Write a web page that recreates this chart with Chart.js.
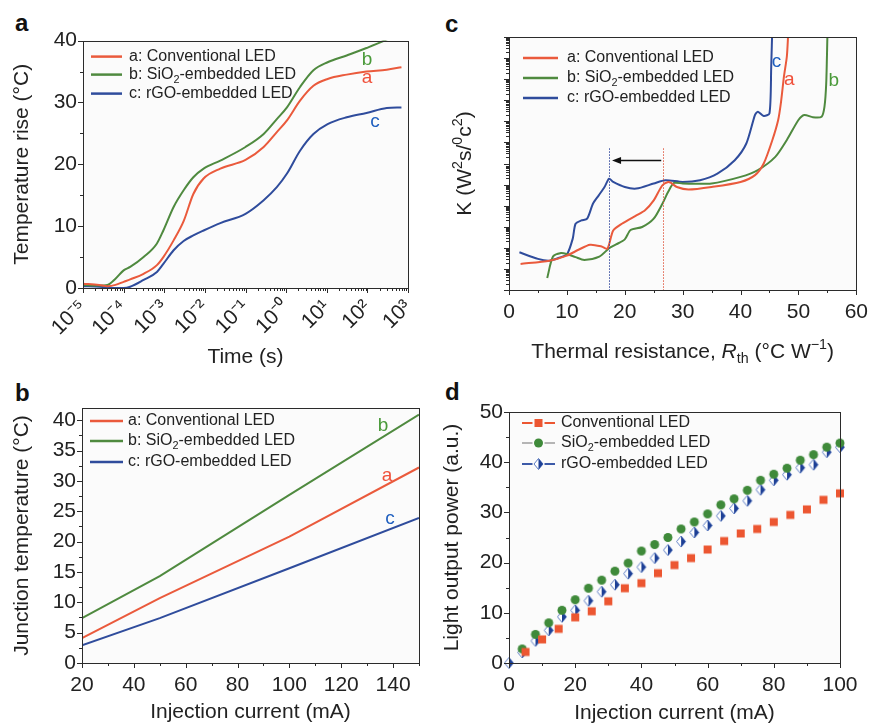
<!DOCTYPE html>
<html>
<head>
<meta charset="utf-8">
<script src="https://cdn.jsdelivr.net/npm/chart.js@4.4.1/dist/chart.umd.min.js"></script>
<style>
  html, body { margin: 0; padding: 0; background: #fff; }
  body { position: relative; width: 874px; height: 726px; overflow: hidden; font-family: 'Liberation Sans', Arial, sans-serif; }
  canvas { position: absolute; }
  .tag { position: absolute; font-weight: bold; font-size: 24px; line-height: 1; color: #111; }
</style>
</head>
<body>
<span class="tag" style="left:15px;top:11px">a</span>
<span class="tag" style="left:445px;top:12px">c</span>
<span class="tag" style="left:15px;top:381px">b</span>
<span class="tag" style="left:445px;top:380px">d</span>
<canvas id="chartA" width="430" height="350" style="left:0;top:25px"></canvas>
<canvas id="chartC" width="434" height="345" style="left:440px;top:30px"></canvas>
<canvas id="chartB" width="430" height="341" style="left:0;top:385px"></canvas>
<canvas id="chartD" width="434" height="341" style="left:440px;top:385px"></canvas>
<script>
const FONT = "'Liberation Sans', Arial, sans-serif";
const RED = '#ea5a3c', GREEN = '#4f8a3f', BLUE = '#2f4c9c';

// (a) transient temperature rise vs time
const timeS = [1e-5, 2.5e-5, 4e-5, 6.3e-5, 1e-4, 1.45e-4, 3.1e-4, 6.6e-4, 9.5e-4, 1.7e-3, 3e-3, 5.2e-3, 9.3e-3,
  2.4e-2, 0.1, 0.28, 0.59, 1.05, 2.2, 4.7, 10.5, 31, 95, 300, 690];
const riseConv = [0.7, 0.5, 0.3, 0.5, 1.0, 1.4, 2.3, 3.7, 5.0, 7.7, 10.8, 15.2, 17.7,
  19.3, 20.7, 22.8, 25.2, 27.1, 30.3, 32.7, 33.8, 34.5, 35.0, 35.3, 35.7];
const riseSiO2 = [0.5, 0.4, 0.5, 1.5, 2.85, 3.4, 5.0, 7.2, 9.3, 13.1, 15.8, 17.9, 19.3,
  20.6, 22.8, 24.9, 27.3, 29.2, 32.5, 35.2, 36.5, 37.6, 38.8, 40.2, 41.5];
const riseRgo = [0.3, 0.2, 0.1, 0.0, 0.0, 0.2, 1.3, 2.6, 3.9, 6.1, 7.6, 8.5, 9.3,
  10.5, 12.0, 14.2, 16.3, 18.5, 22.2, 24.9, 26.5, 27.6, 28.3, 29.1, 29.2];
const timeTickLabels = ['10⁻⁵', '10⁻⁴', '10⁻³', '10⁻²', '10⁻¹', '10⁻⁰', '10¹', '10²', '10³'];

// (b) junction temperature vs injection current
const currentB = [20, 50, 100, 150];
const tjConv = [4.1, 10.7, 20.8, 32.2];
const tjSiO2 = [7.4, 14.3, 27.7, 40.9];
const tjRgo = [2.9, 7.4, 15.6, 23.9];

// (c) structure function K vs thermal resistance (K in relative units, 0-100 over the axis)
const rthConv = [2, 7, 10, 12, 14, 16, 17, 18, 19.5, 22, 23.5, 25, 26.5, 27.5, 28, 29, 31, 35, 40, 42.5, 44, 45.5, 46.5, 47, 47.5, 48, 48.2, 48.4];
const kConv = [10.3, 11.6, 13.6, 15.9, 17.9, 17.2, 16.3, 23.5, 26.2, 29.5, 31.5, 35.4, 41.4, 42.7, 42.3, 40.7, 39.7, 40.7, 42.7, 45.4, 50.0, 59.3, 67.2, 74.5, 84.4, 92.3, 100, 110];
const rthSiO2 = [6.6, 7.6, 9, 10, 11.5, 13, 15.6, 17.3, 18.5, 20, 21, 23, 25, 26.5, 27.5, 28.5, 30, 35, 40, 43, 46, 48, 50, 51, 52.5, 54, 54.5, 54.8, 55, 55.1];
const kSiO2 = [4.7, 13.2, 14.6, 14.2, 13.0, 11.9, 13.2, 16.5, 18.0, 20.0, 23.7, 24.9, 28.2, 34.1, 38.8, 42.3, 42.1, 42.1, 44.7, 47.4, 52.6, 59.3, 67.2, 69.2, 68.3, 68.5, 72.5, 81.7, 100, 110];
const rthRgo = [1.8, 5, 7, 9, 10, 11, 11.5, 12.5, 13.5, 14.5, 15.5, 16.5, 17.3, 18, 20, 22, 25, 27, 30, 33, 36, 39, 41, 42.5, 43, 44, 45, 45.3, 45.5];
const kRgo = [14.9, 12.3, 11.6, 13.0, 14.0, 20.2, 26.2, 27.5, 28.2, 34.1, 37.4, 40.7, 44.0, 42.7, 40.7, 40.1, 42.1, 43.4, 42.7, 43.4, 46.0, 51.3, 57.9, 69.2, 70.5, 68.8, 69.8, 88.4, 105];
const rthMarkConv = 26.6, rthMarkRgo = 17.3;

// (d) light output power vs injection current
const currentConv = [5, 10, 15, 20, 25, 30, 35, 40, 45, 50, 55, 60, 65, 70, 75, 80, 85, 90, 95, 100];
const powerConv = [2.2, 4.7, 6.8, 9.1, 10.3, 12.3, 14.9, 15.9, 17.9, 19.5, 20.9, 22.6, 24.3, 25.8, 26.7, 28.1, 29.5, 30.6, 32.5, 33.8];
const currentSiO2 = [4, 8, 12, 16, 20, 24, 28, 32, 36, 40, 44, 48, 52, 56, 60, 64, 68, 72, 76, 80, 84, 88, 92, 96, 100];
const powerSiO2 = [2.8, 5.7, 8.0, 10.5, 12.6, 14.9, 16.5, 18.3, 19.9, 22.3, 23.6, 25.0, 26.7, 28.1, 29.7, 31.5, 32.7, 34.4, 36.4, 37.6, 38.8, 40.4, 41.5, 43.0, 43.8];
const currentRgo = [0, 4, 8, 12, 16, 20, 24, 28, 32, 36, 40, 44, 48, 52, 56, 60, 64, 68, 72, 76, 80, 84, 88, 92, 96, 100];
const powerRgo = [0, 2.1, 4.4, 6.5, 9.2, 10.5, 12.4, 14.2, 15.6, 17.8, 19.1, 20.9, 22.5, 24.2, 26.0, 27.4, 29.3, 30.8, 32.3, 34.5, 36.4, 37.5, 38.9, 39.5, 42.0, 43.0];

const namesABC = [
  [['a: Conventional LED', '']],
  [['b: SiO', ''], ['2', 'sub'], ['-embedded LED', '']],
  [['c: rGO-embedded LED', '']]
];
const namesD = [
  [['Conventional LED', '']],
  [['SiO', ''], ['2', 'sub'], ['-embedded LED', '']],
  [['rGO-embedded LED', '']]
];

Chart.defaults.font.family = FONT;
Chart.defaults.color = '#222';

const pts = (xs, ys) => xs.map((x, i) => ({ x, y: ys[i] }));

function richText(ctx, parts, x, y, size, align) {
  const segs = parts.map(([t, m]) => {
    const s = (m === 'sub' || m === 'sup') ? size * 0.68 : size;
    const f = (m === 'it' ? 'italic ' : '') + s + 'px ' + FONT;
    ctx.font = f;
    return { t, m, f, w: ctx.measureText(t).width };
  });
  const total = segs.reduce((a, s) => a + s.w, 0);
  let cx = align === 'center' ? x - total / 2 : x;
  ctx.textAlign = 'left';
  ctx.textBaseline = 'middle';
  segs.forEach(s => {
    ctx.font = s.f;
    const dy = s.m === 'sub' ? size * 0.32 : s.m === 'sup' ? -size * 0.32 : 0;
    ctx.fillText(s.t, cx, y + dy);
    cx += s.w;
  });
}

function drawMarker(ctx, kind, x, y) {
  ctx.save();
  if (kind === 'square') {
    ctx.fillStyle = '#ec5631';
    ctx.fillRect(x - 4, y - 4, 8, 8);
  } else if (kind === 'circle') {
    ctx.fillStyle = '#3f8a3a';
    ctx.beginPath(); ctx.arc(x, y, 4.5, 0, Math.PI * 2); ctx.fill();
  } else {
    ctx.beginPath();
    ctx.moveTo(x, y - 5.5); ctx.lineTo(x + 4.5, y); ctx.lineTo(x, y + 5.5); ctx.lineTo(x - 4.5, y); ctx.closePath();
    ctx.fillStyle = '#fff'; ctx.fill();
    ctx.strokeStyle = '#5b7cc4'; ctx.lineWidth = 1; ctx.stroke();
    ctx.beginPath();
    ctx.moveTo(x, y - 5.5); ctx.lineTo(x + 4.5, y); ctx.lineTo(x, y + 5.5); ctx.closePath();
    ctx.fillStyle = '#1d3f95'; ctx.fill();
  }
  ctx.restore();
}

function markerImage(kind) {
  const c = document.createElement('canvas');
  c.width = 12; c.height = 13;
  drawMarker(c.getContext('2d'), kind, 6, 6.5);
  return c;
}

function linTicks(min, max, step, every) {
  return scale => {
    const out = [];
    for (let i = 0; min + i * step <= max + 1e-9; i++) {
      const v = +(min + i * step).toFixed(4);
      out.push({ value: v, major: Math.abs(v / every - Math.round(v / every)) < 1e-6 });
    }
    scale.ticks = out;
  };
}
const majorLabel = (v, i, t) => (t[i] && t[i].major ? String(v) : '');

function logTimeTicks(scale) {
  const out = [];
  for (let e = -5; e <= 3; e++) {
    for (let k = 1; k <= 9; k++) {
      if (e === 3 && k > 1) break;
      out.push({ value: k * Math.pow(10, e), major: k === 1 });
    }
  }
  scale.ticks = out;
}

// K axis has no labels, only log-style tick clusters
function kTicks(scale) {
  const out = [], decades = 12;
  for (let d = 0; d < decades; d++) {
    for (let k = 1; k <= 9; k++) out.push({ value: (d + Math.log10(k)) * 100 / decades, major: k === 1 });
  }
  out.push({ value: 100, major: true });
  scale.ticks = out;
}

const frame = {
  id: 'frame',
  beforeDraw(chart) {
    const { ctx, chartArea: a } = chart;
    ctx.save();
    ctx.fillStyle = '#fbfbfb';
    ctx.fillRect(a.left, a.top, a.right - a.left, a.bottom - a.top);
    ctx.restore();
  },
  afterDraw(chart) {
    const { ctx, chartArea: a } = chart;
    ctx.save();
    ctx.strokeStyle = '#2b2b2b';
    ctx.lineWidth = 1;
    ctx.strokeRect(Math.round(a.left) + 0.5, Math.round(a.top) + 0.5, Math.round(a.right - a.left), Math.round(a.bottom - a.top));
    Object.values(chart.scales).forEach(s => {
      s.ticks.forEach(t => {
        const p = Math.round(s.getPixelForValue(t.value)) + 0.5;
        const len = t.major ? 5 : 3;
        ctx.beginPath();
        if (s.isHorizontal()) { ctx.moveTo(p, a.bottom); ctx.lineTo(p, a.bottom + len); }
        else { ctx.moveTo(a.left, p); ctx.lineTo(a.left - len, p); }
        ctx.stroke();
      });
    });
    ctx.restore();
  }
};

function insetLegend(cfg) {
  return {
    id: 'inset',
    afterDraw(chart) {
      const { ctx, chartArea: a } = chart;
      cfg.rows.forEach(row => {
        const y = a.top + row.dy;
        const x0 = a.left + cfg.x0, x1 = a.left + cfg.x1, xm = (x0 + x1) / 2;
        ctx.save();
        ctx.strokeStyle = row.line;
        ctx.lineWidth = row.marker ? 2 : 2.5;
        ctx.beginPath();
        if (row.marker) {
          ctx.moveTo(x0, y); ctx.lineTo(xm - 6, y);
          ctx.moveTo(xm + 6, y); ctx.lineTo(x1, y);
        } else {
          ctx.moveTo(x0, y); ctx.lineTo(x1, y);
        }
        ctx.stroke();
        if (row.marker) drawMarker(ctx, row.marker, xm, y);
        ctx.fillStyle = '#222';
        richText(ctx, row.parts, a.left + cfg.tx, y, 16, 'left');
        ctx.restore();
      });
    }
  };
}

function curveTags(tags) {
  return {
    id: 'tags',
    afterDatasetsDraw(chart) {
      const { ctx, scales: { x, y } } = chart;
      ctx.save();
      ctx.font = '19px ' + FONT;
      ctx.textAlign = 'center';
      ctx.textBaseline = 'middle';
      tags.forEach(t => {
        ctx.fillStyle = t.color;
        ctx.fillText(t.text, x.getPixelForValue(t.x), y.getPixelForValue(t.y));
      });
      ctx.restore();
    }
  };
}

const tickFont = { size: 21 };
const titleFont = { size: 21 };
const hiddenGrid = { color: 'rgba(0,0,0,0)', drawOnChartArea: false, tickLength: 4 };

function lineSet(label, data, color, tension, mono) {
  const ds = { label, data, borderColor: color, backgroundColor: color, borderWidth: 2, pointRadius: 0, tension, fill: false };
  if (mono) ds.cubicInterpolationMode = 'monotone';
  return ds;
}

const base = { responsive: false, animation: false, events: [], plugins: { legend: { display: false }, tooltip: { enabled: false } } };

// ---- (a)
new Chart(document.getElementById('chartA'), {
  type: 'line',
  data: {
    datasets: [
      lineSet('a: Conventional LED', pts(timeS, riseConv), RED, 0.4, true),
      lineSet('b: SiO2-embedded LED', pts(timeS, riseSiO2), GREEN, 0.4, true),
      lineSet('c: rGO-embedded LED', pts(timeS, riseRgo), BLUE, 0.4, true)
    ]
  },
  options: {
    ...base,
    layout: { padding: { top: 15, right: 22, left: 0, bottom: 0 } },
    scales: {
      x: {
        type: 'logarithmic', min: 1e-5, max: 1e3,
        grid: hiddenGrid, border: { display: false },
        afterBuildTicks: logTimeTicks,
        afterFit: s => { s.height = 87; },
        ticks: {
          font: tickFont, autoSkip: false, minRotation: 45, maxRotation: 45, padding: 3,
          callback: (v, i, t) => (t[i] && t[i].major ? timeTickLabels[Math.round(Math.log10(v)) + 5] : '')
        },
        title: { display: true, text: 'Time (s)', font: titleFont, padding: { top: 0, bottom: 5 } }
      },
      y: {
        min: 0, max: 40,
        grid: { ...hiddenGrid, tickLength: 3 }, border: { display: false },
        afterBuildTicks: linTicks(0, 40, 5, 10),
        afterFit: s => { s.width = 83; },
        ticks: { font: tickFont, padding: 3, autoSkip: false, callback: majorLabel },
        title: { display: true, text: 'Temperature rise (°C)', font: titleFont, padding: { top: 10, bottom: 0 } }
      }
    }
  },
  plugins: [frame,
    insetLegend({ x0: 8, x1: 39, tx: 46, rows: [
      { dy: 16, line: RED, parts: namesABC[0] },
      { dy: 34, line: GREEN, parts: namesABC[1] },
      { dy: 53, line: BLUE, parts: namesABC[2] }
    ] }),
    curveTags([
      { text: 'b', color: '#4a9a3a', x: 98, y: 36.9 },
      { text: 'a', color: '#f0503a', x: 98, y: 34.0 },
      { text: 'c', color: '#1f5fbf', x: 155, y: 26.8 }
    ])]
});

// ---- (c)
const cExtras = {
  id: 'cExtras',
  afterDatasetsDraw(chart) {
    const { ctx, chartArea: a, scales: { x, y } } = chart;
    ctx.save();
    ctx.lineWidth = 1;
    ctx.setLineDash([1.5, 1.5]);
    [[rthMarkRgo, '#3a4fa0'], [rthMarkConv, '#e0604a']].forEach(([v, c]) => {
      const px = Math.round(x.getPixelForValue(v)) + 0.5;
      ctx.strokeStyle = c;
      ctx.beginPath(); ctx.moveTo(px, y.getPixelForValue(56)); ctx.lineTo(px, a.bottom); ctx.stroke();
    });
    ctx.setLineDash([]);
    const ay = Math.round(y.getPixelForValue(51.4)) + 0.5;
    const xs = x.getPixelForValue(26.3), xe = x.getPixelForValue(17.8);
    ctx.strokeStyle = '#111'; ctx.fillStyle = '#111'; ctx.lineWidth = 1.3;
    ctx.beginPath(); ctx.moveTo(xs, ay); ctx.lineTo(xe + 6, ay); ctx.stroke();
    ctx.beginPath(); ctx.moveTo(xe, ay); ctx.lineTo(xe + 9, ay - 3.5); ctx.lineTo(xe + 9, ay + 3.5); ctx.closePath(); ctx.fill();
    ctx.restore();
  },
  afterDraw(chart) {
    const { ctx, chartArea: a } = chart;
    ctx.save();
    ctx.fillStyle = '#222';
    richText(ctx, [['Thermal resistance, ', ''], ['R', 'it'], ['th', 'sub'], [' (°C W', ''], ['−1', 'sup'], [')', '']],
      (a.left + a.right) / 2, 322, 21, 'center');
    ctx.translate(25, (a.top + a.bottom) / 2);
    ctx.rotate(-Math.PI / 2);
    richText(ctx, [['K (W', ''], ['2', 'sup'], ['s/', ''], ['0', 'sup'], ['c', ''], ['2', 'sup'], [')', '']], 0, 0, 21, 'center');
    ctx.restore();
  }
};

new Chart(document.getElementById('chartC'), {
  type: 'line',
  data: {
    datasets: [
      lineSet('a: Conventional LED', pts(rthConv, kConv), RED, 0.25),
      lineSet('b: SiO2-embedded LED', pts(rthSiO2, kSiO2), GREEN, 0.25),
      lineSet('c: rGO-embedded LED', pts(rthRgo, kRgo), BLUE, 0.25)
    ]
  },
  options: {
    ...base,
    layout: { padding: { top: 7, right: 14, left: 0, bottom: 0 } },
    scales: {
      x: {
        type: 'linear', min: 0, max: 60,
        grid: hiddenGrid, border: { display: false },
        afterBuildTicks: linTicks(0, 60, 5, 10),
        afterFit: s => { s.height = 85; },
        ticks: { font: tickFont, padding: 6, autoSkip: false, maxRotation: 0, callback: majorLabel }
      },
      y: {
        min: 0, max: 100,
        grid: hiddenGrid, border: { display: false },
        afterBuildTicks: kTicks,
        afterFit: s => { s.width = 69; },
        ticks: { display: false, autoSkip: false }
      }
    }
  },
  plugins: [frame, cExtras,
    insetLegend({ x0: 14, x1: 49, tx: 58, rows: [
      { dy: 21, line: RED, parts: namesABC[0] },
      { dy: 41, line: GREEN, parts: namesABC[1] },
      { dy: 61, line: BLUE, parts: namesABC[2] }
    ] }),
    curveTags([
      { text: 'c', color: '#1f5fbf', x: 46.2, y: 90.1 },
      { text: 'a', color: '#f0503a', x: 48.4, y: 83.0 },
      { text: 'b', color: '#4a9a3a', x: 56.1, y: 82.6 }
    ])]
});

// ---- (b)
new Chart(document.getElementById('chartB'), {
  type: 'line',
  data: {
    datasets: [
      lineSet('a: Conventional LED', pts(currentB, tjConv), RED, 0),
      lineSet('b: SiO2-embedded LED', pts(currentB, tjSiO2), GREEN, 0),
      lineSet('c: rGO-embedded LED', pts(currentB, tjRgo), BLUE, 0)
    ]
  },
  options: {
    ...base,
    layout: { padding: { top: 23, right: 11, left: 0, bottom: 0 } },
    scales: {
      x: {
        type: 'linear', min: 20, max: 150,
        grid: hiddenGrid, border: { display: false },
        afterBuildTicks: linTicks(20, 150, 10, 20),
        afterFit: s => { s.height = 63; },
        ticks: { font: tickFont, padding: 6, autoSkip: false, maxRotation: 0, callback: majorLabel },
        title: { display: true, text: 'Injection current (mA)', font: titleFont, padding: { top: 0, bottom: 1 } }
      },
      y: {
        min: 0, max: 42,
        grid: { ...hiddenGrid, tickLength: 3 }, border: { display: false },
        afterBuildTicks: linTicks(0, 42, 2.5, 5),
        afterFit: s => { s.width = 82; },
        ticks: { font: tickFont, padding: 3, autoSkip: false, callback: majorLabel },
        title: { display: true, text: 'Junction temperature (°C)', font: titleFont, padding: { top: 10, bottom: 0 } }
      }
    }
  },
  plugins: [frame,
    insetLegend({ x0: 8, x1: 41, tx: 46, rows: [
      { dy: 13, line: RED, parts: namesABC[0] },
      { dy: 33, line: GREEN, parts: namesABC[1] },
      { dy: 54, line: BLUE, parts: namesABC[2] }
    ] }),
    curveTags([
      { text: 'b', color: '#4a9a3a', x: 136.1, y: 39.0 },
      { text: 'a', color: '#f0503a', x: 137.7, y: 30.8 },
      { text: 'c', color: '#1f5fbf', x: 138.8, y: 23.8 }
    ])]
});

// ---- (d)
function scatterSet(label, data, kind) {
  return { label, data, showLine: false, pointStyle: markerImage(kind), pointRadius: 5, clip: false };
}

new Chart(document.getElementById('chartD'), {
  type: 'scatter',
  data: {
    datasets: [
      scatterSet('Conventional LED', pts(currentConv, powerConv), 'square'),
      scatterSet('SiO2-embedded LED', pts(currentSiO2, powerSiO2), 'circle'),
      scatterSet('rGO-embedded LED', pts(currentRgo, powerRgo), 'diamond')
    ]
  },
  options: {
    ...base,
    layout: { padding: { top: 27, right: 34, left: 0, bottom: 0 } },
    scales: {
      x: {
        type: 'linear', min: 0, max: 100,
        grid: hiddenGrid, border: { display: false },
        afterBuildTicks: linTicks(0, 100, 10, 20),
        afterFit: s => { s.height = 63; },
        ticks: { font: tickFont, padding: 6, autoSkip: false, maxRotation: 0, callback: majorLabel },
        title: { display: true, text: 'Injection current (mA)', font: titleFont, padding: { top: 0, bottom: 0 } }
      },
      y: {
        min: 0, max: 50,
        grid: { ...hiddenGrid, tickLength: 3 }, border: { display: false },
        afterBuildTicks: linTicks(0, 50, 5, 10),
        afterFit: s => { s.width = 69; },
        ticks: { font: tickFont, padding: 3, autoSkip: false, callback: majorLabel },
        title: { display: true, text: 'Light output power (a.u.)', font: titleFont, padding: { top: 0, bottom: 0 } }
      }
    }
  },
  plugins: [frame,
    insetLegend({ x0: 13, x1: 46, tx: 52, rows: [
      { dy: 11, line: '#ec5631', marker: 'square', parts: namesD[0] },
      { dy: 31, line: '#b5b5b5', marker: 'circle', parts: namesD[1] },
      { dy: 52, line: '#3c5aa8', marker: 'diamond', parts: namesD[2] }
    ] })]
});
</script>
</body>
</html>
